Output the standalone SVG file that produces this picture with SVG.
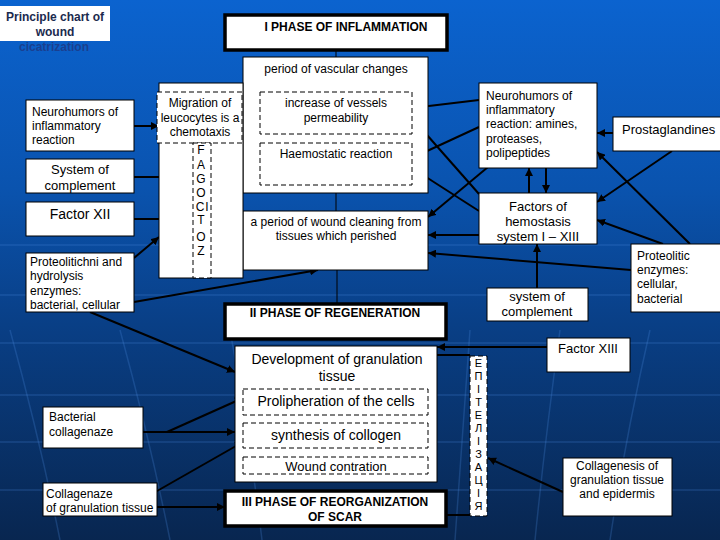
<svg xmlns="http://www.w3.org/2000/svg" width="720" height="540" viewBox="0 0 720 540">
<defs>
<linearGradient id="bg" x1="0" y1="0" x2="0" y2="1">
<stop offset="0" stop-color="#0b63cf"/>
<stop offset="0.35" stop-color="#0a53ae"/>
<stop offset="0.6" stop-color="#093f86"/>
<stop offset="1" stop-color="#082650"/>
</linearGradient>
<marker id="ah" viewBox="0 0 10 10" refX="10" refY="5" markerWidth="8" markerHeight="8" orient="auto" markerUnits="userSpaceOnUse">
<path d="M0,0 L10,5 L0,10 z" fill="#000"/>
</marker>
<style>
text{font-family:"Liberation Sans",Arial,sans-serif;font-size:12px;fill:#000}
.b{font-weight:bold}
.c{text-anchor:middle}
.box{fill:#fff;stroke:#000;stroke-width:1}
.ph{fill:#fff;stroke:#000;stroke-width:3.5}
.dash{fill:#fff;stroke:#000;stroke-width:1;stroke-dasharray:5,3}
.ar{stroke:#000;stroke-width:2;fill:none;marker-end:url(#ah)}
.ln{stroke:#000;stroke-width:1;fill:none}
.ln2{stroke:#000;stroke-width:2;fill:none}
.grid{stroke:#4a8ae0;stroke-width:1.5;fill:none;opacity:0.25}
.lg{font-size:14px}
.md{font-size:13px}
.sm{font-size:11px}
</style>
</defs>
<rect width="720" height="540" fill="url(#bg)"/>
<g id="bggrid">
<path class="grid" d="M0,245 H720 M0,295 H720 M0,343 H720 M0,395 H720 M0,442 H720 M0,490 H720"/>
<path class="grid" d="M10,330 Q40,440 60,540 M120,330 Q150,440 170,540 M230,330 Q250,440 262,540 M470,330 Q462,440 455,540 M560,330 Q545,440 535,540 M650,330 Q625,440 610,540"/>
</g>
<g id="title">
<rect x="0" y="6" width="110" height="35" fill="#fff"/>
<text class="b c" x="55" y="21" style="fill:#1b2a4e">Principle chart of</text>
<text class="b c" x="55" y="36" style="fill:#1b2a4e">wound</text>
<text class="b c" x="54" y="51" style="fill:#1a3f8f">cicatrization</text>
</g>
<g id="connectors">
<path class="ln" d="M336,50 V58 M336,78 V92 M336,134 V143 M336,193 V211 M337,270 V304 M336,383 V389 M336,415 V423 M336,448 V457"/>
<line class="ar" x1="134" y1="126" x2="159" y2="126"/>
<line class="ar" x1="134" y1="177" x2="193" y2="177"/>
<line class="ar" x1="134" y1="219" x2="193" y2="219"/>
<line class="ar" x1="134" y1="258" x2="159" y2="237"/>
<line class="ar" x1="134" y1="302" x2="318" y2="270"/>
<line class="ar" x1="90" y1="312" x2="235" y2="372"/>
<line class="ar" x1="479" y1="100" x2="412" y2="108"/>
<line class="ar" x1="479" y1="127" x2="412" y2="158"/>
<line class="ar" x1="488" y1="167" x2="428" y2="217"/>
<line class="ar" x1="479" y1="194" x2="412" y2="118"/>
<line class="ar" x1="479" y1="211" x2="412" y2="168"/>
<line class="ar" x1="479" y1="235" x2="428" y2="235"/>
<line class="ar" x1="631" y1="270" x2="428" y2="253"/>
<line class="ar" x1="529" y1="193" x2="529" y2="168"/>
<line class="ar" x1="546" y1="168" x2="546" y2="193"/>
<line class="ar" x1="613" y1="133" x2="597" y2="133"/>
<line class="ar" x1="672" y1="151" x2="597" y2="202"/>
<line class="ar" x1="690" y1="244" x2="597" y2="152"/>
<line class="ar" x1="663" y1="244" x2="597" y2="220"/>
<line class="ar" x1="537" y1="288" x2="537" y2="244"/>
<line class="ar" x1="547" y1="347" x2="437" y2="347"/>
<line class="ln2" x1="437" y1="355" x2="470" y2="355"/>
<line class="ln2" x1="446" y1="515" x2="470" y2="515"/>
<line class="ar" x1="563" y1="492" x2="488" y2="458"/>
<line class="ar" x1="143" y1="432" x2="235" y2="432"/>
<line class="ar" x1="167" y1="432" x2="243" y2="398"/>
<line class="ar" x1="143" y1="499" x2="243" y2="442"/>
<line class="ar" x1="150" y1="507" x2="225" y2="507"/>
</g>
<g id="phase1">
<rect class="ph" x="225" y="15" width="222" height="35"/>
<text class="b c" x="346" y="31">I PHASE OF INFLAMMATION</text>
</g>
<g id="vascular">
<rect class="box" x="243" y="57" width="185" height="136"/>
<text class="c" x="336" y="73">period of vascular changes</text>
</g>
<g id="permeability">
<rect class="dash" x="260" y="92" width="152" height="42"/>
<text class="c" x="336" y="107">increase of vessels</text>
<text class="c" x="336" y="122">permeability</text>
</g>
<g id="haemostatic">
<rect class="dash" x="260" y="143" width="152" height="42"/>
<text class="c" x="336" y="158">Haemostatic reaction</text>
</g>
<g id="cleaning">
<rect class="box" x="243" y="211" width="185" height="59"/>
<text class="c" x="336" y="226">a period of wound cleaning from</text>
<text class="c" x="336" y="240">tissues which perished</text>
</g>
<g id="migration">
<rect class="box" x="159" y="83" width="84" height="195"/>
<rect class="dash" x="157" y="92" width="85" height="51"/>
<text class="c" x="200" y="107">Migration of</text>
<text class="c" x="200" y="122">leucocytes is a</text>
<text class="c" x="200" y="136">chemotaxis</text>
</g>
<g id="fagocitoz">
<rect class="dash" x="193" y="143" width="18" height="135"/>
<text class="c" x="201" y="154">F</text>
<text class="c" x="201" y="169">A</text>
<text class="c" x="201" y="183">G</text>
<text class="c" x="201" y="197">O</text>
<text class="c" x="200" y="211">C</text>
<text class="c" x="207" y="211">I</text>
<text class="c" x="201" y="224">T</text>
<text class="c" x="201" y="241">O</text>
<text class="c" x="201" y="255">Z</text>
</g>
<g id="neuro-left">
<rect class="box" x="26" y="100" width="108" height="51"/>
<text x="32" y="116">Neurohumors of</text>
<text x="32" y="130">inflammatory</text>
<text x="32" y="144">reaction</text>
</g>
<g id="complement-left">
<rect class="box" x="26" y="159" width="108" height="34"/>
<text class="c md" x="80" y="174">System of</text>
<text class="c md" x="80" y="190">complement</text>
</g>
<g id="factor12">
<rect class="box" x="26" y="202" width="108" height="34"/>
<text class="c lg" x="80" y="219">Factor XII</text>
</g>
<g id="proteo-left">
<rect class="box" x="26" y="253" width="108" height="59"/>
<text x="30" y="266">Proteolitichni and</text>
<text x="30" y="280">hydrolysis</text>
<text x="30" y="295">enzymes:</text>
<text x="30" y="309">bacterial, cellular</text>
</g>
<g id="neuro-right">
<rect class="box" x="479" y="83" width="118" height="85"/>
<text x="486" y="100">Neurohumors of</text>
<text x="486" y="114">inflammatory</text>
<text x="486" y="128">reaction: amines,</text>
<text x="486" y="143">proteases,</text>
<text x="486" y="157">polipeptides</text>
</g>
<g id="prostaglandines">
<rect class="box" x="613" y="117" width="110" height="34"/>
<text class="md" x="622" y="134">Prostaglandines</text>
</g>
<g id="hemostasis">
<rect class="box" x="479" y="193" width="118" height="51"/>
<text class="c md" x="538" y="211">Factors of</text>
<text class="c md" x="538" y="226">hemostasis</text>
<text class="c md" x="538" y="241">system I – XIII</text>
</g>
<g id="proteo-right">
<rect class="box" x="631" y="244" width="92" height="68"/>
<text x="637" y="260">Proteolitic</text>
<text x="637" y="274">enzymes:</text>
<text x="637" y="288">cellular,</text>
<text x="637" y="303">bacterial</text>
</g>
<g id="complement-right">
<rect class="box" x="487" y="288" width="101" height="33"/>
<text class="c md" x="537" y="301">system of</text>
<text class="c md" x="537" y="316">complement</text>
</g>
<g id="factor13">
<rect class="box" x="547" y="338" width="83" height="34"/>
<text class="c md" x="588" y="353">Factor XIII</text>
</g>
<g id="collagenesis">
<rect class="box" x="563" y="458" width="109" height="58"/>
<text class="c" x="617" y="470">Collagenesis of</text>
<text class="c" x="617" y="484">granulation tissue</text>
<text class="c" x="617" y="498">and epidermis</text>
</g>
<g id="phase2">
<rect class="ph" x="225" y="304" width="221" height="35"/>
<text class="b c" x="335" y="317">II PHASE OF REGENERATION</text>
</g>
<g id="granulation">
<rect class="box" x="235" y="346" width="202" height="136"/>
<text class="c lg" x="337" y="364">Development of granulation</text>
<text class="c lg" x="337" y="381">tissue</text>
</g>
<g id="prolipheration">
<rect class="dash" x="243" y="389" width="185" height="26"/>
<text class="c lg" x="336" y="406">Prolipheration of the cells</text>
</g>
<g id="synthesis">
<rect class="dash" x="243" y="423" width="185" height="25"/>
<text class="c lg" x="336" y="440">synthesis of collogen</text>
</g>
<g id="contration">
<rect class="dash" x="243" y="457" width="185" height="17"/>
<text class="c md" x="336" y="471">Wound contration</text>
</g>
<g id="phase3">
<rect class="ph" x="225" y="491" width="221" height="35"/>
<text class="b c" x="335" y="506">III PHASE OF REORGANIZATION</text>
<text class="b c" x="335" y="521">OF SCAR</text>
</g>
<g id="epitelizatsiya">
<rect class="dash" x="470" y="356" width="17" height="160"/>
<text class="c sm" x="478.5" y="367">Е</text>
<text class="c sm" x="478.5" y="380">П</text>
<text class="c sm" x="478.5" y="393">І</text>
<text class="c sm" x="478.5" y="406">Т</text>
<text class="c sm" x="478.5" y="419">Е</text>
<text class="c sm" x="478.5" y="432">Л</text>
<text class="c sm" x="478.5" y="445">І</text>
<text class="c sm" x="478.5" y="458">З</text>
<text class="c sm" x="478.5" y="471">А</text>
<text class="c sm" x="478.5" y="484">Ц</text>
<text class="c sm" x="478.5" y="497">І</text>
<text class="c sm" x="478.5" y="510">Я</text>
</g>
<g id="bacterial">
<rect class="box" x="43" y="407" width="100" height="41"/>
<text x="49" y="421">Bacterial</text>
<text x="49" y="436">collagenaze</text>
</g>
<g id="collagenaze">
<rect class="box" x="43" y="483" width="114" height="33"/>
<text x="46" y="498">Collagenaze</text>
<text x="46" y="512">of granulation tissue</text>
</g>
</svg>
